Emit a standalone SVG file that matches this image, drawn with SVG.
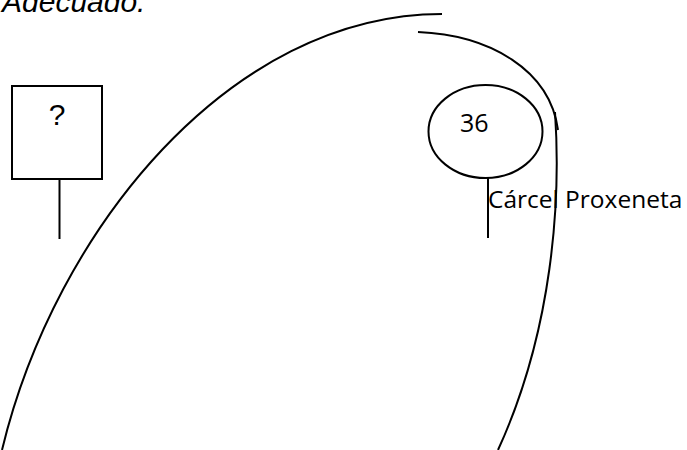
<svg xmlns="http://www.w3.org/2000/svg" width="687" height="450" viewBox="0 0 687 450">
<style>
.ln{fill:none;stroke:#000;stroke-width:2}
.t{font-family:"Open Sans","Noto Sans",sans-serif;font-size:25px;fill:#000}
</style>
<rect width="687" height="450" fill="#fff"/>
<text x="2" y="12" font-family="Liberation Sans, Arial, sans-serif" font-style="italic" font-size="30" fill="#000">Adecuado.</text>
<g id="connectors">
<path class="ln" d="M2 450 C55 230 230 14 442 14"/>
<path class="ln" d="M418 32 C490 35 550 70 558 130"/>
<path class="ln" d="M555 112 C561 200 553 330 498 450"/>
</g>
<g id="node-unknown">
<rect class="ln" x="12" y="86" width="90" height="93"/>
<text x="57" y="125" text-anchor="middle" font-family="Liberation Sans, Arial, sans-serif" font-size="30" fill="#000">?</text>
<line class="ln" x1="59.5" y1="179" x2="59.5" y2="239"/>
</g>
<g id="node-36">
<ellipse class="ln" cx="485.5" cy="131.5" rx="57" ry="46.5"/>
<text class="t" x="460" y="132">36</text>
<line class="ln" x1="488" y1="178" x2="488" y2="238"/>
<text class="t" x="488" y="208" font-size="24.5" style="font-size:24.5px">Cárcel Proxeneta</text>
</g>
</svg>
